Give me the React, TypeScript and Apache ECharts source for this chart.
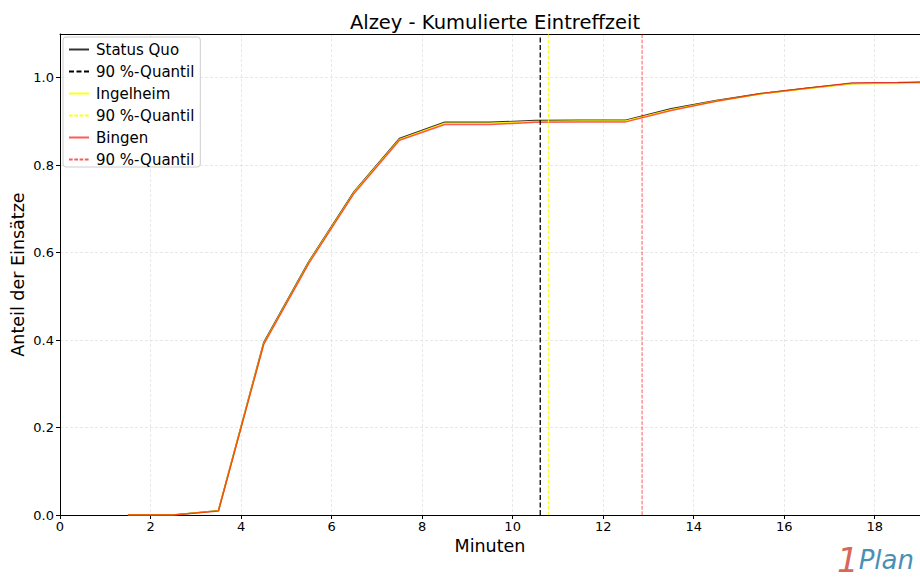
import React, { useEffect, useRef } from "react";
import * as echarts from "echarts";

const minutes = [1.5, 2.5, 3.5, 4.5, 5.5, 6.5, 7.5, 8.5, 9.5, 10.5, 11.5, 12.5, 13.5, 14.5, 15.5, 16.5, 17.5, 18.5, 19.5];
const statusQuo = [0, 0, 0.01, 0.394, 0.58, 0.74, 0.861, 0.898, 0.898, 0.902, 0.903, 0.903, 0.929, 0.948, 0.964, 0.976, 0.987, 0.988, 0.99];
const ingelheim = [0, 0, 0.01, 0.392, 0.578, 0.738, 0.859, 0.896, 0.896, 0.9, 0.901, 0.901, 0.927, 0.947, 0.963, 0.975, 0.986, 0.987, 0.989];
const bingen = [0, 0, 0.009, 0.39, 0.576, 0.736, 0.857, 0.893, 0.893, 0.898, 0.899, 0.899, 0.925, 0.946, 0.964, 0.976, 0.988, 0.989, 0.991];
const quantiles = [10.61, 10.79, 12.86];
const seriesNames = ["Status Quo", "q1", "Ingelheim", "q2", "Bingen", "q3"];
const yTicks = [0, 0.2, 0.4, 0.6, 0.8, 1.0];

const FONT = "DejaVu Sans";

export default function App() {
  const ref = useRef<HTMLDivElement>(null);
  useEffect(() => {
    if (!ref.current) return;
    const chart = echarts.init(ref.current, null, { renderer: "svg" });
    const pts = (ys: number[]) => minutes.map((m, i) => [m, ys[i]]);
    const vline = (x: number) => [[x, 0], [x, 1.1]];
    const lineSeries = (name: string, data: any, color: string, width: number, type: any, z: number) => ({
      name,
      type: "line",
      data,
      showSymbol: false,
      symbol: "none",
      z,
      lineStyle: { color, width, type },
      itemStyle: { color },
    });
    chart.setOption({
      animation: false,
      backgroundColor: "#ffffff",
      title: {
        text: "Alzey - Kumulierte Eintreffzeit",
        left: 490,
        textAlign: "center",
        top: 7,
        textStyle: { fontFamily: FONT, fontSize: 19.5, fontWeight: "normal", color: "#000" },
      },
      legend: {
        orient: "vertical",
        left: 63,
        top: 37,
        padding: [5, 6, 0, 5],
        itemWidth: 20,
        itemHeight: 14,
        itemGap: 7,
        backgroundColor: "rgba(255,255,255,0.85)",
        borderColor: "#cccccc",
        borderWidth: 1,
        borderRadius: 3,
        itemStyle: { opacity: 0 },
        data: seriesNames,
        formatter: (n: string) => (n.startsWith("q") ? "90 %-Quantil" : n),
        textStyle: { fontFamily: FONT, fontSize: 15, color: "#000", padding: [0, 0, 0, 2], lineHeight: 15 },
      },
      grid: { left: 60, right: 0, top: 34, bottom: 64, outerBoundsMode: "none", containLabel: false },
      xAxis: [
        {
          type: "value",
          min: 0,
          max: 19,
          interval: 2,
          name: "Minuten",
          nameLocation: "middle",
          nameGap: 22,
          nameMoveOverlap: false,
          nameTextStyle: { fontFamily: FONT, fontSize: 17.5, color: "#000" },
          axisLine: { show: true, lineStyle: { color: "#000", width: 1 } },
          axisTick: { show: true, length: 4, lineStyle: { color: "#000" } },
          axisLabel: { fontFamily: FONT, fontSize: 13, color: "#000", margin: 5, showMaxLabel: false },
          splitLine: { show: true, lineStyle: { color: "#e2e2e2", type: [3, 2], width: 0.8 } },
        },
        {
          type: "value",
          position: "top",
          min: 0,
          max: 19,
          axisLine: { show: true, onZero: false, lineStyle: { color: "#000", width: 1 } },
          axisTick: { show: false },
          axisLabel: { show: false },
          splitLine: { show: false },
        },
      ],
      yAxis: {
        type: "value",
        min: 0,
        max: 1.1,
        interval: 0.2,
        name: "Anteil der Einsätze",
        nameLocation: "middle",
        nameGap: 33,
        nameMoveOverlap: false,
        nameTextStyle: { fontFamily: FONT, fontSize: 17.5, color: "#000" },
        axisLine: { show: true, lineStyle: { color: "#000", width: 1 } },
        axisTick: { show: true, length: 4, lineStyle: { color: "#000" } },
        axisLabel: {
          fontFamily: FONT,
          fontSize: 13,
          color: "#000",
          margin: 6,
          showMaxLabel: false,
          formatter: (v: number) => (yTicks.some((t) => Math.abs(t - v) < 1e-6) ? v.toFixed(1) : ""),
        },
        splitLine: { show: true, lineStyle: { color: "#e2e2e2", type: [3, 2], width: 0.8 } },
      },
      series: [
        lineSeries("Status Quo", pts(statusQuo), "rgba(0,0,0,0.8)", 1.5, "solid", 3),
        lineSeries("q1", vline(quantiles[0]), "#000000", 1.3, [5, 2.5], 5),
        lineSeries("Ingelheim", pts(ingelheim), "rgba(255,255,0,0.9)", 1.5, "solid", 4),
        lineSeries("q2", vline(quantiles[1]), "rgba(255,255,0,0.9)", 1, [3.7, 1.6], 5),
        lineSeries("Bingen", pts(bingen), "rgba(255,0,0,0.65)", 1.5, "solid", 4),
        lineSeries("q3", vline(quantiles[2]), "rgba(255,0,0,0.65)", 1, [3.7, 1.6], 5),
      ],
      graphic: [
        {
          type: "text",
          right: 6,
          bottom: 2,
          style: {
            text: "{a|1}{b|Plan}",
            rich: {
              a: { fontFamily: FONT, fontSize: 34, fontStyle: "italic", fill: "#d9665a" },
              b: { fontFamily: FONT, fontSize: 26, fontStyle: "italic", fill: "#4a8fb5" },
            },
          },
        },
      ],
    });
    return () => chart.dispose();
  }, []);
  return <div ref={ref} style={{ position: "fixed", left: 0, top: 0, width: 920, height: 579 }} />;
}
